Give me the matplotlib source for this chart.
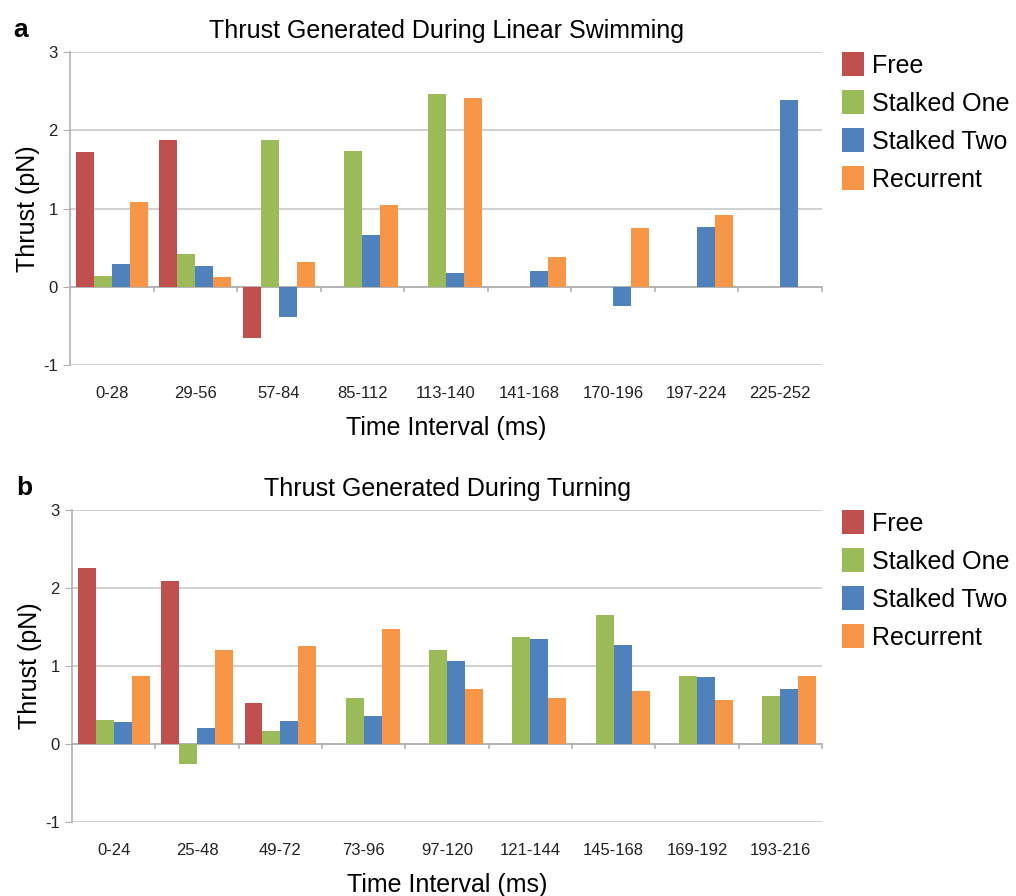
import numpy as np
import matplotlib.pyplot as plt

plt.rcParams['font.family'] = ['Liberation Sans', 'DejaVu Sans']

# kategoriler ve seriler
series = ['Free', 'Stalked One', 'Stalked Two', 'Recurrent']
colors = ['#C0504D', '#9BBB59', '#4F81BD', '#F79646']

linear_labels = ['0-28', '29-56', '57-84', '85-112', '113-140',
                 '141-168', '170-196', '197-224', '225-252']
linear_free = [1.72, 1.87, -0.66, 0, 0, 0, 0, 0, 0]
linear_one = [0.14, 0.42, 1.87, 1.73, 2.46, 0, 0, 0, 0]
linear_two = [0.29, 0.27, -0.39, 0.66, 0.17, 0.20, -0.24, 0.77, 2.39]
linear_rec = [1.09, 0.13, 0.32, 1.05, 2.41, 0.38, 0.75, 0.92, 0]

turn_labels = ['0-24', '25-48', '49-72', '73-96', '97-120',
               '121-144', '145-168', '169-192', '193-216']
turn_free = [2.26, 2.09, 0.53, 0, 0, 0, 0, 0, 0]
turn_one = [0.31, -0.26, 0.17, 0.59, 1.21, 1.37, 1.65, 0.87, 0.62]
turn_two = [0.28, 0.20, 0.30, 0.36, 1.07, 1.34, 1.27, 0.86, 0.70]
turn_rec = [0.87, 1.21, 1.26, 1.48, 0.71, 0.59, 0.68, 0.57, 0.87]

fig = plt.figure(figsize=(10.16, 8.96), dpi=100)
ax_a = fig.add_axes([0.0689, 0.5926, 0.7402, 0.3493])
ax_b = fig.add_axes([0.0709, 0.0826, 0.7382, 0.3482])


def draw_panel(ax, labels, data, title, letter):
    x = np.arange(len(labels))
    w = 0.215
    for i, (vals, c, name) in enumerate(zip(data, colors, series)):
        ax.bar(x + (i - 1.5) * w, vals, w, color=c, label=name, zorder=3)
    ax.set_xlim(-0.5, len(labels) - 0.5)
    ax.set_ylim(-1, 3)
    ax.set_yticks([-1, 0, 1, 2, 3])
    ax.set_yticklabels(['-1', '0', '1', '2', '3'])
    ax.set_xticks(x)
    ax.set_xticklabels(labels, fontsize=12, color='#222222')
    ax.tick_params(axis='x', length=0, pad=15)
    ax.tick_params(axis='y', length=5, color='#b0b0b0', labelsize=12,
                   labelcolor='#222222', pad=4)
    ax.grid(axis='y', color='#c8c8c8', lw=1.2, zorder=0)
    for s in ['top', 'right', 'bottom']:
        ax.spines[s].set_visible(False)
    ax.spines['left'].set_color('#b0b0b0')
    ax.spines['left'].set_linewidth(1.2)
    # sıfır ekseni ve aralık çentikleri
    ax.axhline(0, color='#b0b0b0', lw=1.2, zorder=2)
    for k in range(1, len(labels) + 1):
        ax.plot([k - 0.5, k - 0.5], [0, -0.05], color='#b0b0b0', lw=1.2,
                zorder=2, clip_on=False)
    ax.set_title(title, fontsize=18, pad=10)
    ax.set_ylabel('Thrust (pN)', fontsize=18, labelpad=2)
    ax.set_xlabel('Time Interval (ms)', fontsize=18, labelpad=11)
    ax.text(-0.075, 1.07, letter, transform=ax.transAxes, fontsize=19,
            fontweight='bold', va='center')
    ax.legend(loc='upper left', bbox_to_anchor=(1.006, 1.048), frameon=False,
              fontsize=18, handlelength=0.9, handleheight=1.1,
              labelspacing=0.5, handletextpad=0.3, borderaxespad=0.2)


draw_panel(ax_a, linear_labels, [linear_free, linear_one, linear_two, linear_rec],
           'Thrust Generated During Linear Swimming', 'a')
draw_panel(ax_b, turn_labels, [turn_free, turn_one, turn_two, turn_rec],
           'Thrust Generated During Turning', 'b')

fig.savefig('out.png', dpi=100)
